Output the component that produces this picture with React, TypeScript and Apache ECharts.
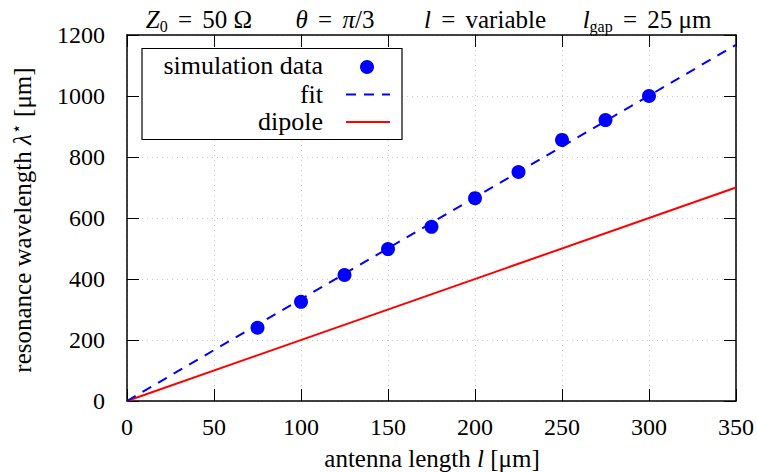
import React, { useEffect, useRef } from "react";
import * as echarts from "echarts";

const antennaLength = [75, 100, 125, 150, 175, 200, 225, 250, 275, 300];
const wavelength = [240, 325, 413, 498, 571, 665, 751, 856, 921, 1000];
const fitLine = [[0, 0], [350, 1168]];
const dipoleLine = [[0, 0], [350, 700]];
const xTicks = { min: 0, max: 350, interval: 50 };
const yTicks = { min: 0, max: 1200, interval: 200 };

const FONT = "Liberation Serif";
const BLUE = "#0000ff";
const RED = "#ff0000";
const TS = 25;

export default function App() {
  const ref = useRef<HTMLDivElement>(null);
  useEffect(() => {
    const chart = echarts.init(ref.current!, null, { renderer: "svg" });
    const rich = {
      n: { fontFamily: FONT, fontSize: TS, fill: "#000" },
      e: { fontFamily: FONT, fontSize: TS, fill: "#000", padding: [0, 4, 0, 4] },
      i: { fontFamily: FONT, fontSize: TS, fontStyle: "italic", fill: "#000" },
      sub: { fontFamily: FONT, fontSize: 16, fill: "#000", padding: [14, 0, 0, 0] },
      sup: { fontFamily: FONT, fontSize: 17, fill: "#000", padding: [0, 0, 12, 0] },
    };
    const legRich = { n: { fontFamily: FONT, fontSize: 26, fill: "#000", lineHeight: 22 } };
    const tText = (x: number, y: number, text: string, extra: any = {}) => ({
      type: "text",
      x,
      y,
      silent: true,
      ...extra,
      style: {
        text,
        rich,
        fontFamily: FONT,
        fontSize: TS,
        fill: "#000",
        align: "center",
        verticalAlign: "middle",
        ...(extra.style || {}),
      },
    });
    const axisCommon = {
      axisLine: { show: true, onZero: false, lineStyle: { color: "#000", width: 1.5 } },
      axisTick: { show: true, inside: true, length: 12, lineStyle: { color: "#000", width: 1 } },
    };
    const fmt = (v: number) => String(v);
    chart.setOption({
      animation: false,
      textStyle: { fontFamily: FONT },
      grid: { left: 127, right: 19, top: 35, bottom: 71, containLabel: false },
      xAxis: [
        {
          type: "value",
          ...xTicks,
          ...axisCommon,
          axisLabel: { fontFamily: FONT, fontSize: 24, color: "#000", margin: 14, formatter: fmt },
          splitLine: { show: true, lineStyle: { color: "#c8c8c8", type: [1, 4], width: 1 } },
        },
        {
          type: "value",
          position: "top",
          ...xTicks,
          ...axisCommon,
          axisLabel: { show: false },
          splitLine: { show: false },
        },
      ],
      yAxis: [
        {
          type: "value",
          ...yTicks,
          ...axisCommon,
          axisLabel: { fontFamily: FONT, fontSize: 24, color: "#000", margin: 22, formatter: fmt },
          splitLine: { show: true, lineStyle: { color: "#c8c8c8", type: [1, 4], width: 1 } },
        },
        {
          type: "value",
          position: "right",
          ...yTicks,
          ...axisCommon,
          axisLabel: { show: false },
          splitLine: { show: false },
        },
      ],
      series: [
        {
          name: "dipole",
          type: "line",
          data: dipoleLine,
          symbol: "none",
          lineStyle: { color: RED, width: 2 },
          z: 2,
        },
        {
          name: "fit",
          type: "line",
          data: fitLine,
          symbol: "none",
          lineStyle: { color: BLUE, width: 2, type: [10, 8] },
          z: 3,
        },
        {
          name: "simulation data",
          type: "scatter",
          data: antennaLength.map((x, k) => [x, wavelength[k]]),
          symbol: "circle",
          symbolSize: 14,
          itemStyle: { color: BLUE, opacity: 1 },
          z: 4,
        },
      ],
      graphic: [
        tText(199, 19, "{i|Z}{sub|0}{e| = }{n|50 Ω}"),
        tText(335, 19, "{i|θ}{e| = }{i|π}{n|/3}"),
        tText(485, 19, "{i|l}{e| = }{n|variable}"),
        tText(647, 19, "{i|l}{sub|gap}{e| = }{n|25 μm}"),
        tText(432, 458, "{n|antenna length }{i|l}{n| [μm]}"),
        tText(22, 220, "{n|resonance wavelength }{i|λ}{sup|⋆}{n| [μm]}", { rotation: Math.PI / 2 }),
        {
          type: "rect",
          shape: { x: 142, y: 48.5, width: 260, height: 91 },
          style: { fill: "#fff", stroke: "#000", lineWidth: 1.2 },
          z: 100,
        },
        tText(323, 65, "{n|simulation data}", { z: 101, style: { align: "right", rich: legRich } }),
        tText(323, 94, "{n|fit}", { z: 101, style: { align: "right", rich: legRich } }),
        tText(323, 121, "{n|dipole}", { z: 101, style: { align: "right", rich: legRich } }),
        {
          type: "circle",
          shape: { cx: 367, cy: 67, r: 7 },
          style: { fill: BLUE },
          z: 101,
        },
        {
          type: "line",
          shape: { x1: 346, y1: 94.5, x2: 390, y2: 94.5 },
          style: { stroke: BLUE, lineWidth: 2, lineDash: [10, 8] },
          z: 101,
        },
        {
          type: "line",
          shape: { x1: 346, y1: 122, x2: 390, y2: 122 },
          style: { stroke: RED, lineWidth: 2 },
          z: 101,
        },
      ],
    });
    return () => chart.dispose();
  }, []);
  return <div ref={ref} style={{ width: 757, height: 472, position: "absolute", left: 0, top: 0 }} />;
}
